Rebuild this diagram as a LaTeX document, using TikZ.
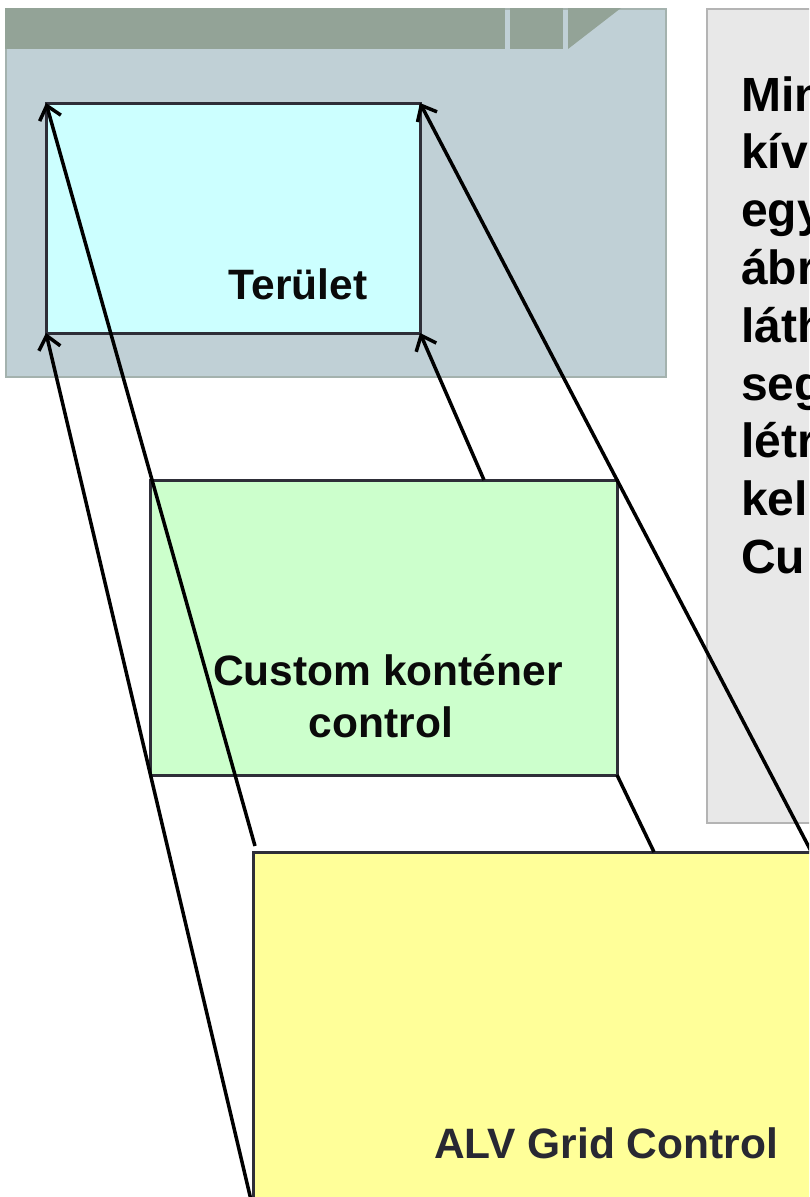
\documentclass[tikz,border=0pt]{standalone}
\usepackage{fontspec}
\setmainfont{Liberation Sans}
\usetikzlibrary{arrows.meta}
\definecolor{panelbg}{HTML}{C0D0D6}
\definecolor{panelln}{HTML}{A4B2AE}
\definecolor{barc}{HTML}{93A397}
\definecolor{cyanf}{HTML}{CCFFFF}
\definecolor{greenf}{HTML}{CCFFCC}
\definecolor{yellowf}{HTML}{FFFF99}
\definecolor{noteb}{HTML}{E8E8E8}
\definecolor{notel}{HTML}{B4B4B4}
\definecolor{boxln}{HTML}{2E2E38}
\definecolor{txtc}{HTML}{0A0A0A}
\definecolor{txtd}{HTML}{282832}
\tikzset{
  boxst/.style={draw=boxln, line width=3pt, anchor=north west, inner sep=0pt, outer sep=0pt},
  lbl/.style={font=\fontsize{42.5}{50}\selectfont\bfseries, text=txtc, anchor=base, inner sep=0pt},
  notetxt/.style={font=\fontsize{48}{56}\selectfont\bfseries, text=black, anchor=base west, inner sep=0pt},
  conn/.style={line width=3.5pt, black},
  arr/.style={conn, -{Straight Barb[length=13pt, width=22pt, line width=3.5pt]}}
}
\begin{document}
\begin{tikzpicture}[x=1pt, y=-1pt]
\useasboundingbox (0,0) rectangle (809,1197);
\clip (0,0) rectangle (809,1197);
\fill[white] (0,0) rectangle (809,1197);
% window panel
\node[draw=panelln, fill=panelbg, line width=1.5pt, anchor=north west, inner sep=0pt,
      minimum width=660pt, minimum height=368pt] (panel) at (5,8) {};
\fill[barc] (5,8) rectangle (505,49);
\fill[barc] (510,8) rectangle (563,49);
\fill[barc] (568,8) -- (621,8) -- (568,49) -- cycle;
% boxes
\node[boxst, fill=cyanf, minimum width=374pt, minimum height=230pt] (ter) at (46,103) {};
\node[lbl] (terl) at (298,299) {Terület};
\node[boxst, fill=greenf, minimum width=467pt, minimum height=295pt] (cc) at (150,480) {};
\node[lbl] (ccl1) at (388,685) {Custom konténer};
\node[lbl] (ccl2) at (381,737) {control};
\node[draw=notel, fill=noteb, line width=2pt, anchor=north west, inner sep=0pt,
      minimum width=200pt, minimum height=814pt] (note) at (706,8) {};
\foreach \t [count=\i from 0] in {Min,kív,egy,ábr,láth,seg,létr,kel,Cu}{
  \node[notetxt] (n\i) at (741,{111+57.8*\i}) {\t};
}
\node[boxst, fill=yellowf, minimum width=700pt, minimum height=500pt] (alv) at (253,852) {};
\node[lbl, text=txtd] (alvl) at (606,1158) {ALV Grid Control};
% connector free ends
\coordinate (c1s) at (255,846);
\coordinate (c2s) at (251,1200);
\coordinate (c3s) at (484,480);
\coordinate (c4s) at (812,853);
\coordinate (c5e) at (654,852);
% connectors
\draw[arr] (c1s) -- (ter.north west);
\draw[arr] (c2s) -- (ter.south west);
\draw[arr] (c3s) -- (ter.south east);
\draw[arr] (c4s) -- (ter.north east);
\draw[conn] (cc.south east) -- (c5e);
\end{tikzpicture}
\end{document}
